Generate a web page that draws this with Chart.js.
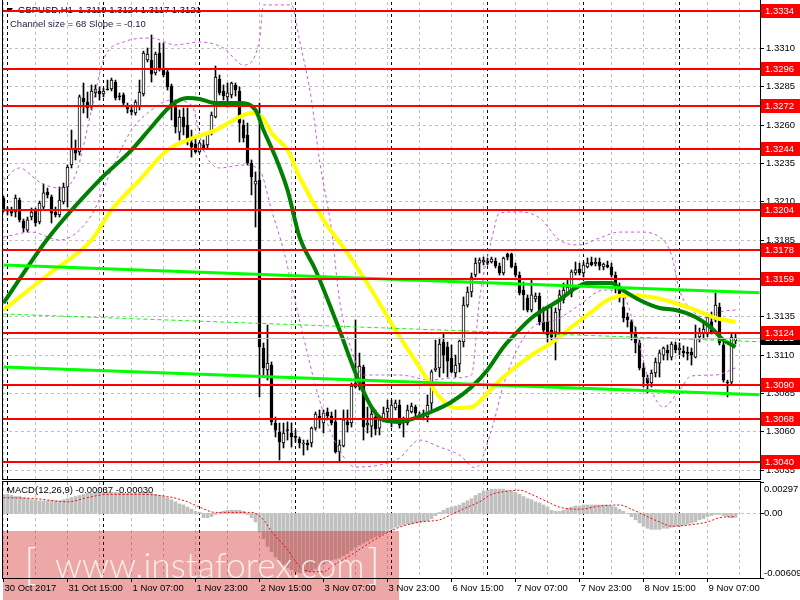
<!DOCTYPE html>
<html lang="en">
<head>
<meta charset="UTF-8">
<title>GBPUSD,H1</title>
<script src="https://cdn.jsdelivr.net/npm/chart.js"></script>
<style>
  body { margin: 0; background: #fff; }
  #wrap { position: relative; width: 800px; height: 600px; overflow: hidden; }
  canvas { position: absolute; left: 0; }
  #main { top: 0; }
  #macd { top: 481px; }
</style>
</head>
<body>
<div id="wrap">
  <canvas id="main" width="800" height="481"></canvas>
  <canvas id="macd" width="800" height="119"></canvas>
</div>
<script>
// H1 bars, 30 Oct 23:00 .. 9 Nov 14:00
const open = [1.32121,1.32049,1.32043,1.32030,1.32108,1.31971,1.31912,1.31997,1.32043,1.31965,
  1.32062,1.32160,1.32128,1.32030,1.32010,1.32095,1.32193,1.32336,1.32434,1.32421,
  1.32773,1.32747,1.32714,1.32806,1.32819,1.32799,1.32832,1.32832,1.32877,1.32786,
  1.32793,1.32727,1.32695,1.32675,1.32721,1.32799,1.33021,1.33021,1.32936,1.33066,
  1.32962,1.32943,1.32851,1.32727,1.32551,1.32649,1.32597,1.32480,1.32473,1.32421,
  1.32467,1.32467,1.32545,1.32649,1.32897,1.32819,1.32780,1.32793,1.32858,1.32819,
  1.32597,1.32532,1.32349,1.32212,1.32238,1.31143,1.31000,1.31032,1.30654,1.30595,
  1.30524,1.30608,1.30589,1.30563,1.30550,1.30517,1.30524,1.30524,1.30621,1.30700,
  1.30654,1.30726,1.30700,1.30661,1.30465,1.30504,1.30661,1.30654,1.30889,1.30889,
  1.31019,1.30641,1.30634,1.30693,1.30621,1.30674,1.30726,1.30654,1.30752,1.30771,
  1.30674,1.30654,1.30726,1.30758,1.30706,1.30700,1.30693,1.30784,1.31000,1.31013,
  1.31182,1.31150,1.31078,1.30980,1.31039,1.31182,1.31423,1.31508,1.31619,1.31697,
  1.31704,1.31710,1.31704,1.31710,1.31678,1.31632,1.31756,1.31756,1.31678,1.31619,
  1.31521,1.31469,1.31391,1.31463,1.31482,1.31313,1.31313,1.31260,1.31247,1.31391,
  1.31456,1.31502,1.31502,1.31632,1.31658,1.31632,1.31671,1.31704,1.31691,1.31704,
  1.31671,1.31684,1.31671,1.31619,1.31541,1.31410,1.31345,1.31313,1.31241,1.31176,
  1.31013,1.30947,1.30915,1.30980,1.31045,1.31097,1.31130,1.31084,1.31163,1.31130,
  1.31123,1.31110,1.31117,1.31084,1.31215,1.31241,1.31234,1.31313,1.31326,1.31410,
  1.31163,1.30921,1.30921,1.31190];
const high = [1.32134,1.32062,1.32062,1.32141,1.32121,1.31984,1.31997,1.32056,1.32056,1.32101,
  1.32212,1.32186,1.32141,1.32062,1.32193,1.32219,1.32336,1.32564,1.32499,1.32793,
  1.32871,1.32812,1.32858,1.32858,1.32845,1.32838,1.32890,1.32903,1.32890,1.32806,
  1.32806,1.32740,1.32727,1.32760,1.32890,1.33079,1.33099,1.33184,1.33073,1.33132,
  1.33132,1.32956,1.32864,1.32760,1.32695,1.32708,1.32708,1.32564,1.32519,1.32486,
  1.32499,1.32551,1.32682,1.32982,1.32923,1.32858,1.32871,1.32877,1.32871,1.32845,
  1.32630,1.32610,1.32369,1.32291,1.32740,1.31176,1.31293,1.31052,1.30693,1.30654,
  1.30654,1.30661,1.30654,1.30608,1.30563,1.30543,1.30543,1.30628,1.30726,1.30739,
  1.30739,1.30752,1.30726,1.30739,1.30543,1.30739,1.30739,1.30915,1.31326,1.31110,
  1.31032,1.30758,1.30758,1.30739,1.30693,1.30758,1.30804,1.30804,1.30804,1.30804,
  1.30693,1.30771,1.30784,1.30771,1.30726,1.30739,1.30837,1.31000,1.31195,1.31208,
  1.31241,1.31182,1.31163,1.31097,1.31195,1.31476,1.31541,1.31632,1.31730,1.31730,
  1.31736,1.31730,1.31736,1.31730,1.31697,1.31736,1.31762,1.31762,1.31697,1.31639,
  1.31573,1.31489,1.31586,1.31502,1.31502,1.31410,1.31410,1.31410,1.31404,1.31521,
  1.31567,1.31586,1.31652,1.31704,1.31697,1.31704,1.31730,1.31736,1.31730,1.31730,
  1.31697,1.31710,1.31697,1.31639,1.31567,1.31469,1.31371,1.31326,1.31280,1.31195,
  1.31045,1.30967,1.31000,1.31078,1.31130,1.31150,1.31163,1.31182,1.31182,1.31176,
  1.31157,1.31150,1.31143,1.31293,1.31273,1.31313,1.31371,1.31378,1.31502,1.31436,
  1.31195,1.30934,1.31241,1.31240];
const low = [1.32030,1.32010,1.32004,1.31997,1.31965,1.31899,1.31899,1.31978,1.31938,1.31952,
  1.32049,1.32121,1.31958,1.31997,1.31997,1.32082,1.32062,1.32317,1.32369,1.32401,
  1.32675,1.32643,1.32695,1.32780,1.32760,1.32780,1.32825,1.32819,1.32760,1.32760,
  1.32727,1.32675,1.32662,1.32662,1.32695,1.32786,1.33008,1.32877,1.32923,1.32949,
  1.32910,1.32825,1.32630,1.32545,1.32499,1.32532,1.32467,1.32388,1.32414,1.32414,
  1.32434,1.32447,1.32532,1.32643,1.32793,1.32760,1.32714,1.32773,1.32786,1.32486,
  1.32486,1.32336,1.32141,1.31932,1.30824,1.30954,1.30934,1.30641,1.30563,1.30413,
  1.30491,1.30543,1.30498,1.30530,1.30491,1.30445,1.30478,1.30498,1.30608,1.30621,
  1.30589,1.30674,1.30641,1.30458,1.30400,1.30498,1.30595,1.30628,1.30882,1.30869,
  1.30543,1.30589,1.30563,1.30576,1.30576,1.30661,1.30687,1.30628,1.30739,1.30621,
  1.30563,1.30641,1.30719,1.30693,1.30687,1.30674,1.30661,1.30739,1.30990,1.30954,
  1.30980,1.30954,1.30980,1.30954,1.30987,1.31150,1.31410,1.31476,1.31606,1.31632,
  1.31684,1.31684,1.31697,1.31665,1.31619,1.31619,1.31717,1.31665,1.31606,1.31489,
  1.31391,1.31378,1.31378,1.31443,1.31293,1.31241,1.31182,1.31195,1.31065,1.31247,
  1.31436,1.31489,1.31476,1.31619,1.31619,1.31606,1.31665,1.31678,1.31678,1.31652,
  1.31652,1.31665,1.31606,1.31502,1.31443,1.31313,1.31280,1.31195,1.31111,1.31000,
  1.30889,1.30850,1.30889,1.30954,1.30954,1.31065,1.31065,1.31065,1.31111,1.31097,
  1.31084,1.31065,1.31032,1.31078,1.31182,1.31208,1.31215,1.31234,1.31313,1.31163,
  1.30921,1.30824,1.30908,1.31170];
const close = [1.32043,1.32036,1.32023,1.32121,1.31978,1.31925,1.31978,1.32030,1.31958,1.32088,
  1.32154,1.32141,1.32023,1.32010,1.32108,1.32193,1.32323,1.32447,1.32414,1.32780,
  1.32747,1.32708,1.32819,1.32832,1.32799,1.32819,1.32825,1.32890,1.32773,1.32780,
  1.32740,1.32701,1.32682,1.32747,1.32812,1.33066,1.33060,1.32930,1.33060,1.32962,
  1.32923,1.32845,1.32714,1.32584,1.32649,1.32584,1.32499,1.32454,1.32421,1.32480,
  1.32447,1.32538,1.32662,1.32910,1.32806,1.32786,1.32806,1.32871,1.32825,1.32610,
  1.32512,1.32349,1.32258,1.32232,1.31150,1.31013,1.31045,1.30661,1.30608,1.30530,
  1.30589,1.30605,1.30563,1.30560,1.30524,1.30524,1.30511,1.30621,1.30713,1.30674,
  1.30719,1.30700,1.30654,1.30465,1.30511,1.30674,1.30641,1.30895,1.30915,1.31026,
  1.30628,1.30654,1.30713,1.30615,1.30674,1.30719,1.30752,1.30771,1.30784,1.30641,
  1.30654,1.30739,1.30765,1.30719,1.30706,1.30719,1.30771,1.30987,1.31013,1.31169,
  1.31097,1.31058,1.30987,1.31032,1.31189,1.31423,1.31508,1.31606,1.31697,1.31717,
  1.31717,1.31697,1.31723,1.31678,1.31632,1.31730,1.31736,1.31671,1.31619,1.31502,
  1.31489,1.31391,1.31489,1.31482,1.31313,1.31260,1.31228,1.31215,1.31378,1.31489,
  1.31521,1.31541,1.31639,1.31652,1.31632,1.31684,1.31697,1.31684,1.31704,1.31678,
  1.31691,1.31671,1.31619,1.31541,1.31469,1.31339,1.31326,1.31241,1.31176,1.31013,
  1.30954,1.30915,1.30980,1.31052,1.31111,1.31143,1.31111,1.31169,1.31130,1.31143,
  1.31111,1.31108,1.31097,1.31208,1.31241,1.31267,1.31345,1.31247,1.31423,1.31176,
  1.30934,1.30915,1.31215,1.31210];

// moving averages, sampled at bar indexes
const maGreenIdx = [0,11,24,32,37,42,46,49,53,59,63,65,68,71,74,78,84,88,92,95,99,103,108,112,117,121,125,127,132,139,143,146,152,154,159,164,168,173,177,180,183];
const maGreenVal = [1.31436,1.31854,1.32238,1.32434,1.32584,1.32727,1.32773,1.32767,1.32740,1.32740,1.32695,1.32564,1.32388,1.32173,1.31867,1.31652,1.31260,1.30980,1.30758,1.30674,1.30661,1.30687,1.30739,1.30791,1.30889,1.31000,1.31150,1.31208,1.31339,1.31456,1.31534,1.31567,1.31567,1.31534,1.31456,1.31404,1.31391,1.31345,1.31273,1.31195,1.31150];
const maYellowIdx = [0,11,22,27,34,41,46,53,59,62,65,67,71,74,80,86,92,98,104,109,113,117,121,125,132,137,142,147,151,156,162,167,173,178,183];
const maYellowVal = [1.31391,1.31619,1.31847,1.32043,1.32238,1.32434,1.32499,1.32564,1.32649,1.32675,1.32636,1.32545,1.32434,1.32258,1.31978,1.31762,1.31521,1.31260,1.31019,1.30824,1.30752,1.30758,1.30850,1.30954,1.31097,1.31176,1.31280,1.31378,1.31456,1.31489,1.31476,1.31443,1.31391,1.31339,1.31313];

// envelope bands
const bandUpIdx = [0,4,9,14,18,22,25,30,37,43,49,55,60,64,65,72,74,77,79,82,84,87,90,99,107,112,117,119,122,124,129,134,139,144,149,154,159,164,167,169,172,176,179,183];
const bandUpVal = [1.32238,1.32317,1.32225,1.32186,1.32271,1.32695,1.33021,1.33138,1.33164,1.33119,1.33138,1.33099,1.32988,1.33151,1.33380,1.33380,1.33151,1.32760,1.32369,1.31912,1.31456,1.31130,1.30967,1.30967,1.30934,1.30947,1.30967,1.31456,1.31847,1.32023,1.32030,1.31991,1.31847,1.31815,1.31860,1.31899,1.31899,1.31867,1.31749,1.31521,1.31391,1.31339,1.31378,1.31391];
const bandLoIdx = [0,7,14,22,27,32,37,42,47,50,54,60,64,67,70,74,79,84,88,94,99,104,109,114,118,122,125,129,133,138,144,150,154,158,162,165,169,172,178,183];
const bandLoVal = [1.31867,1.31899,1.31847,1.32010,1.32304,1.32564,1.32695,1.32760,1.32727,1.32434,1.32317,1.32336,1.32304,1.32043,1.31782,1.31326,1.30804,1.30478,1.30367,1.30380,1.30426,1.30543,1.30498,1.30445,1.30361,1.30608,1.30902,1.31163,1.31293,1.31326,1.31423,1.31521,1.31521,1.31260,1.30869,1.30758,1.30869,1.30961,1.30967,1.31013];

// regression channel ends
const channelIdx = [0, 189];
const channelUp = [1.31684, 1.31504];
const channelMid = [1.31365, 1.31184];
const channelLo = [1.31019, 1.30839];

const levels = [1.3334, 1.3296, 1.3272, 1.3244, 1.3204, 1.3178, 1.3159, 1.3124, 1.3090, 1.3068, 1.3040];
const priceTicks = [1.3310, 1.3285, 1.3260, 1.3235, 1.3210, 1.3185, 1.3160, 1.3135, 1.3110, 1.3085, 1.3060, 1.3035];
const lastPrice = 1.3121;

const timeLabels = ['30 Oct 2017','31 Oct 15:00','1 Nov 07:00','1 Nov 23:00','2 Nov 15:00','3 Nov 07:00','3 Nov 23:00','6 Nov 15:00','7 Nov 07:00','7 Nov 23:00','8 Nov 15:00','9 Nov 07:00'];
const timeLabelIdx = [0,16,32,48,64,80,96,112,128,144,160,176];
const daySepIdx = [1,25,49,73,97,121,145,169];

// MACD(12,26,9)
const macdHist = [0.0018,0.0018,0.0017,0.0016,0.0016,0.0015,0.0014,0.0013,
  0.0013,0.0012,0.0012,0.0012,0.0012,0.0012,0.0012,0.0013,0.0014,0.0015,0.0016,0.0017,
  0.0018,0.0019,0.0019,0.0020,0.0020,0.0020,0.0020,0.0020,0.0020,0.0020,0.0019,0.0019,0.0019,
  0.0019,0.0019,0.0020,0.0020,0.0019,0.0018,0.0017,0.0016,0.0015,
  0.0013,0.0011,0.0009,0.0008,0.0006,0.0004,0.0002,0.0001,-0.0004,-0.0004,-0.0003,
  -0.0001,0.0001,0.0002,0.0003,0.0003,0.0003,0.0003,0.0002,-0.0001,-0.0004,-0.0008,
  -0.0017,-0.0024,-0.0031,-0.0036,-0.0041,-0.0045,-0.0048,-0.0051,
  -0.0053,-0.0055,-0.0056,-0.0056,-0.0055,-0.0054,-0.0052,-0.0050,-0.0048,-0.0046,-0.0044,
  -0.0043,-0.0042,-0.0040,-0.0038,-0.0035,-0.0032,-0.0030,-0.0028,
  -0.0026,-0.0024,-0.0022,-0.0021,-0.0019,-0.0017,-0.0015,-0.0013,-0.0012,
  -0.0011,-0.0010,-0.0010,-0.0009,-0.0009,-0.0008,-0.0007,-0.0005,
  -0.0002,0.0001,0.0003,0.0005,0.0006,0.0007,0.0008,0.0010,0.0012,0.0014,0.0017,0.0019,
  0.0021,0.0022,0.0023,0.0023,0.0023,0.0023,0.0022,0.0021,0.0020,0.0018,0.0016,0.0014,0.0013,
  0.0011,0.0010,0.0008,0.0006,0.0003,0.0002,0.0002,0.0003,0.0005,0.0006,0.0007,0.0007,
  0.0008,0.0008,0.0008,0.0008,0.0008,0.0008,0.0008,0.0007,0.0006,0.0004,0.0002,0.0000,
  -0.0003,-0.0006,-0.0009,-0.0012,-0.0014,-0.0015,-0.0015,-0.0015,
  -0.0014,-0.0014,-0.0013,-0.0012,-0.0012,-0.0011,-0.0010,-0.0009,-0.0008,-0.0006,-0.0005,
  -0.0003,-0.0002,-0.0001,-0.0001,-0.0002,-0.0003,-0.0004,-0.00037];
const signalIdx = [0,8,16,21,26,34,41,46,49,53,62,65,67,71,74,77,80,82,87,91,95,99,104,109,112,116,119,122,126,129,132,136,139,144,149,154,157,161,164,167,171,176,179,183];
const signalVal = [0.0015,0.0014,0.0011,0.0015,0.0018,0.0018,0.0016,0.0011,0.0006,0.0001,0.0001,-0.0006,-0.0017,-0.0034,-0.0050,-0.0055,-0.0055,-0.0050,-0.0039,-0.0029,-0.0020,-0.0013,-0.0008,-0.0006,-0.0001,0.0006,0.0011,0.0018,0.0021,0.0022,0.0018,0.0011,0.0006,0.0004,0.0007,0.0008,0.0004,-0.0003,-0.0008,-0.0012,-0.0011,-0.0008,-0.0004,-0.0003];
const macdMax = 0.00297, macdMin = -0.00609;

// ---------- helpers ----------
const FONT = '9.5px "Liberation Sans", Arial, sans-serif';
const pts = (xs, ys) => xs.map((x, k) => ({ x: x, y: ys[k] }));
const bars = open.map((_, i) => i);
const X_MIN = -0.125, X_MAX = 189.125;

function hline(ctx, x1, x2, y) { ctx.beginPath(); ctx.moveTo(x1, y); ctx.lineTo(x2, y); ctx.stroke(); }
function vline(ctx, x, y1, y2) { ctx.beginPath(); ctx.moveTo(x, y1); ctx.lineTo(x, y2); ctx.stroke(); }

function drawVerticalGrid(chart) {
  const { ctx, chartArea: a, scales: { x } } = chart;
  ctx.save();
  ctx.lineWidth = 1;
  ctx.setLineDash([3, 3]);
  ctx.strokeStyle = '#c0c0c0';
  for (let i = 0; i <= 188; i += 8) vline(ctx, Math.floor(x.getPixelForValue(i)) + 0.5, a.top, a.bottom);
  ctx.strokeStyle = '#000';
  daySepIdx.forEach(i => vline(ctx, Math.floor(x.getPixelForValue(i)) + 0.5, a.top, a.bottom));
  ctx.restore();
}

function rightLabel(ctx, py, text, bg) {
  ctx.fillStyle = bg;
  ctx.fillRect(761, Math.round(py) - 7, 39, 14);
  ctx.fillStyle = '#fff';
  ctx.fillText(text, 765, Math.round(py));
}

// ---------- price window ----------
const mainDecor = {
  id: 'mainDecor',
  beforeDatasetsDraw(chart) {
    const { ctx, chartArea: a, scales: { y } } = chart;
    drawVerticalGrid(chart);
    ctx.save();
    ctx.lineWidth = 1;
    ctx.setLineDash([3, 3]);
    ctx.strokeStyle = '#c0c0c0';
    priceTicks.forEach(v => hline(ctx, a.left, a.right, Math.round(y.getPixelForValue(v)) + 0.5));
    ctx.setLineDash([]);
    // header
    ctx.font = FONT;
    ctx.textBaseline = 'middle';
    ctx.fillStyle = '#000';
    ctx.beginPath(); ctx.moveTo(7, 8); ctx.lineTo(13, 8); ctx.lineTo(10, 12); ctx.closePath(); ctx.fill();
    ctx.fillText('GBPUSD,H1  1.3119 1.3124 1.3117 1.3121', 18, 10);
    ctx.fillStyle = '#1c1c3a';
    ctx.fillText('Channel size = 68 Slope = -0.10', 10, 24);
    ctx.restore();
  },
  afterDatasetsDraw(chart) {
    const { ctx, chartArea: a, scales: { y } } = chart;
    ctx.save();
    // bid line
    ctx.strokeStyle = '#c0c0c0';
    ctx.lineWidth = 1;
    hline(ctx, a.left, a.right, Math.round(y.getPixelForValue(lastPrice)) + 0.5);
    // horizontal levels
    ctx.strokeStyle = '#ff0000';
    ctx.lineWidth = 2;
    levels.forEach(v => hline(ctx, a.left, a.right, Math.round(y.getPixelForValue(v))));
    // frame
    ctx.strokeStyle = '#000';
    ctx.lineWidth = 1;
    vline(ctx, 2.5, 0, a.bottom + 1);
    vline(ctx, 760.5, 0, a.bottom + 1);
    hline(ctx, 2, 761, a.bottom + 0.5);
    // price axis
    ctx.font = FONT;
    ctx.textBaseline = 'middle';
    ctx.fillStyle = '#000';
    priceTicks.forEach(v => {
      const py = Math.round(y.getPixelForValue(v)) + 0.5;
      hline(ctx, 760, 764, py);
      ctx.fillText(v.toFixed(4), 766, py);
    });
    rightLabel(ctx, y.getPixelForValue(lastPrice), lastPrice.toFixed(4), '#000');
    levels.forEach(v => rightLabel(ctx, y.getPixelForValue(v), v.toFixed(4), '#ff0000'));
    ctx.restore();
  }
};

const lineDs = (data, color, width, order, dash) => ({
  type: 'line', data: data, borderColor: color, borderWidth: width, borderDash: dash || [],
  pointRadius: 0, tension: 0.4, cubicInterpolationMode: 'monotone', fill: false, order: order
});

new Chart(document.getElementById('main'), {
  type: 'bar',
  data: {
    datasets: [
      lineDs(pts(channelIdx, channelUp), '#00ff00', 3, 0),
      lineDs(pts(channelIdx, channelMid), '#00ff00', 1, 0, [4, 3]),
      lineDs(pts(channelIdx, channelLo), '#00ff00', 3, 0),
      lineDs(pts(maGreenIdx, maGreenVal), '#008000', 4, 1),
      lineDs(pts(maYellowIdx, maYellowVal), '#ffff00', 4, 2),
      lineDs(pts(bandUpIdx, bandUpVal), '#bf5fd8', 1, 3, [3, 3]),
      lineDs(pts(bandLoIdx, bandLoVal), '#bf5fd8', 1, 3, [3, 3]),
      {
        data: bars.map(i => ({ x: i, y: [open[i], close[i]] })),
        backgroundColor: bars.map(i => close[i] >= open[i] ? '#ffffff' : '#000000'),
        borderColor: '#000', borderWidth: 1, borderSkipped: false,
        barThickness: 3, minBarLength: 1, grouped: false, order: 4
      },
      {
        data: bars.map(i => ({ x: i, y: [low[i], high[i]] })),
        backgroundColor: '#000', borderWidth: 0,
        barThickness: 1, minBarLength: 1, grouped: false, order: 5
      }
    ]
  },
  options: {
    responsive: false, animation: false, events: [],
    layout: { padding: { left: 3, top: 2, right: 40, bottom: 2 } },
    plugins: { legend: { display: false }, tooltip: { enabled: false } },
    scales: {
      x: { type: 'linear', min: X_MIN, max: X_MAX, offset: false, display: false },
      y: { type: 'linear', min: 1.30289, max: 1.33399, display: false }
    }
  },
  plugins: [mainDecor]
});

// ---------- MACD window ----------
const macdDecor = {
  id: 'macdDecor',
  beforeDatasetsDraw(chart) {
    const { ctx, chartArea: a, scales: { y } } = chart;
    drawVerticalGrid(chart);
    ctx.save();
    ctx.lineWidth = 1;
    ctx.setLineDash([3, 3]);
    ctx.strokeStyle = '#c0c0c0';
    hline(ctx, a.left, a.right, Math.round(y.getPixelForValue(0)) + 0.5);
    ctx.restore();
  },
  afterDatasetsDraw(chart) {
    const { ctx, chartArea: a, scales: { x, y } } = chart;
    ctx.save();
    // watermark
    ctx.fillStyle = 'rgba(205, 10, 10, 0.36)';
    ctx.fillRect(3, 50, 396, 69);
    ctx.fillStyle = 'rgba(255, 255, 255, 0.8)';
    ctx.textBaseline = 'alphabetic';
    ctx.font = '300 44px Lato, "Open Sans", sans-serif';
    const w = ctx.measureText('www.instaforex.com').width;
    const size = Math.min(46, 44 * 310 / w);
    ctx.font = '300 ' + size.toFixed(1) + 'px Lato, "Open Sans", sans-serif';
    ctx.fillText('www.instaforex.com', 55, 97);
    ctx.font = '300 44px Lato, "Open Sans", sans-serif';
    ctx.fillText('[', 24, 99);
    ctx.fillText(']', 367, 99);
    // frame
    ctx.strokeStyle = '#000';
    ctx.lineWidth = 1;
    hline(ctx, 2, 761, a.top - 0.5);
    hline(ctx, 2, 761, a.bottom + 0.5);
    vline(ctx, 2.5, a.top - 1, a.bottom + 1);
    vline(ctx, 760.5, a.top - 1, a.bottom + 1);
    // labels
    ctx.font = FONT;
    ctx.textBaseline = 'middle';
    ctx.fillStyle = '#000';
    ctx.fillText('MACD(12,26,9) -0.00037 -0.00030', 7, 9);
    [[macdMax, '0.00297', 7], [0, '0.00', 0], [macdMin, '-0.00609', -5]].forEach(([v, t, dy]) => {
      const py = Math.round(y.getPixelForValue(v)) + 0.5;
      hline(ctx, 760, 764, py);
      ctx.fillText(t, 764, py + dy);
    });
    timeLabelIdx.forEach((i, k) => {
      const px = Math.floor(x.getPixelForValue(i)) + 0.5;
      vline(ctx, px, a.bottom, a.bottom + 4);
      ctx.fillText(timeLabels[k], px + 1, 107);
    });
    ctx.restore();
  }
};

new Chart(document.getElementById('macd'), {
  type: 'bar',
  data: {
    datasets: [
      lineDs(pts(signalIdx, signalVal), '#ff0000', 1, 0, [2, 2]),
      {
        data: bars.map(i => ({ x: i, y: macdHist[i] })),
        backgroundColor: '#c0c0c0', borderWidth: 0,
        barThickness: 3, grouped: false, order: 1
      }
    ]
  },
  options: {
    responsive: false, animation: false, events: [],
    layout: { padding: { left: 3, top: 1, right: 40, bottom: 22 } },
    plugins: { legend: { display: false }, tooltip: { enabled: false } },
    scales: {
      x: { type: 'linear', min: X_MIN, max: X_MAX, offset: false, display: false },
      y: { type: 'linear', min: macdMin, max: macdMax, display: false }
    }
  },
  plugins: [macdDecor]
});
</script>
</body>
</html>
